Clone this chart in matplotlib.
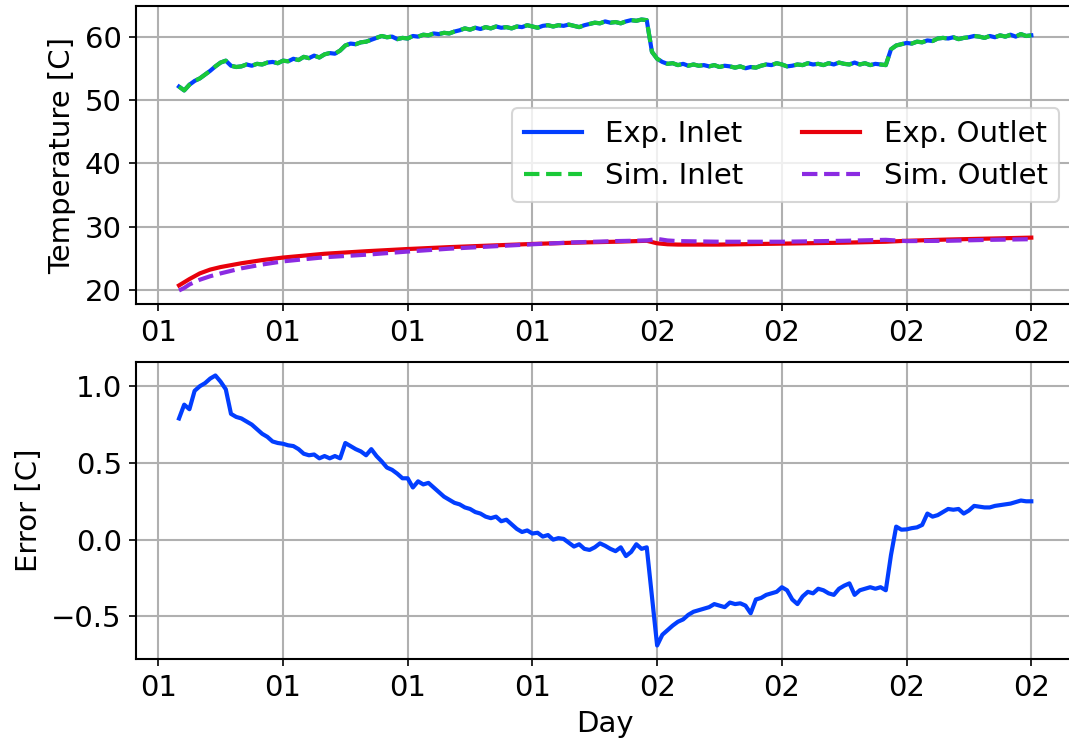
import numpy as np
import pandas as pd
import matplotlib
matplotlib.use("Agg")
import matplotlib.pyplot as plt
import matplotlib.dates as mdates

# hours since start of day 01, sampled every 15 min
hours = np.arange(1.0, 42.01, 0.25)

exp_inlet = [
    52.1, 51.5, 52.4, 53.0,
    53.4, 54.0, 54.6, 55.3,
    55.9, 56.2, 55.4, 55.2,
    55.3, 55.6, 55.4, 55.7,
    55.6, 55.9, 56.0, 55.8,
    56.2, 56.1, 56.5, 56.3,
    56.8, 56.6, 57.0, 56.7,
    57.2, 57.4, 57.3, 57.8,
    58.6, 58.9, 58.8, 59.1,
    59.2, 59.5, 59.8, 60.1,
    59.9, 60.0, 59.6, 59.8,
    59.7, 60.1, 60.0, 60.3,
    60.2, 60.5, 60.4, 60.6,
    60.5, 60.8, 61.0, 61.3,
    61.1, 61.4, 61.2, 61.5,
    61.3, 61.6, 61.4, 61.5,
    61.3, 61.6, 61.5, 61.8,
    61.6, 61.4, 61.7, 61.8,
    61.6, 61.8, 61.7, 61.9,
    61.7, 61.5, 61.8, 62.0,
    62.2, 62.1, 62.4, 62.2,
    62.3, 62.1, 62.4, 62.6,
    62.5, 62.7, 62.6, 57.6,
    56.5, 56.0, 55.7, 55.8,
    55.5, 55.7, 55.4, 55.6,
    55.4, 55.5, 55.3, 55.5,
    55.2, 55.4, 55.3, 55.1,
    55.3, 55.0, 55.2, 55.1,
    55.4, 55.6, 55.5, 55.8,
    55.6, 55.3, 55.4, 55.6,
    55.5, 55.8, 55.6, 55.7,
    55.5, 55.8, 55.6, 55.9,
    55.7, 55.6, 55.9, 55.6,
    55.8, 55.5, 55.7, 55.6,
    55.5, 58.0, 58.6, 58.8,
    59.0, 58.9, 59.2, 59.1,
    59.4, 59.3, 59.7, 59.8,
    59.7, 59.9, 59.6, 59.8,
    59.9, 60.1, 60.0, 59.8,
    60.1, 59.9, 60.2, 60.0,
    60.3, 60.0, 60.4, 60.1,
    60.2,
]
# simulation uses the measured inlet as boundary condition
sim_inlet = list(exp_inlet)

error = [
    0.79, 0.88, 0.85, 0.97,
    1.00, 1.02, 1.05, 1.07,
    1.03, 0.98, 0.82, 0.80,
    0.79, 0.77, 0.75, 0.72,
    0.69, 0.67, 0.64, 0.63,
    0.625, 0.615, 0.61, 0.59,
    0.56, 0.55, 0.555, 0.53,
    0.545, 0.53, 0.545, 0.53,
    0.63, 0.61, 0.59, 0.575,
    0.55, 0.59, 0.545, 0.51,
    0.47, 0.455, 0.43, 0.40,
    0.40, 0.34, 0.38, 0.36,
    0.37, 0.34, 0.31, 0.28,
    0.26, 0.24, 0.23, 0.21,
    0.20, 0.18, 0.17, 0.15,
    0.14, 0.15, 0.12, 0.13,
    0.10, 0.07, 0.05, 0.06,
    0.04, 0.045, 0.02, 0.03,
    0.0, 0.01, 0.005, -0.02,
    -0.045, -0.03, -0.06, -0.067,
    -0.05, -0.024, -0.04, -0.06,
    -0.075, -0.05, -0.107, -0.08,
    -0.03, -0.06, -0.05, -0.37,
    -0.69, -0.62, -0.59, -0.56,
    -0.535, -0.52, -0.49, -0.47,
    -0.46, -0.45, -0.44, -0.42,
    -0.43, -0.44, -0.41, -0.42,
    -0.415, -0.43, -0.48, -0.39,
    -0.38, -0.36, -0.35, -0.34,
    -0.31, -0.33, -0.39, -0.42,
    -0.37, -0.34, -0.35, -0.32,
    -0.33, -0.35, -0.36, -0.32,
    -0.30, -0.285, -0.36, -0.33,
    -0.32, -0.31, -0.32, -0.31,
    -0.33, -0.10, 0.085, 0.065,
    0.067, 0.075, 0.08, 0.096,
    0.17, 0.15, 0.16, 0.18,
    0.20, 0.195, 0.20, 0.17,
    0.19, 0.22, 0.215, 0.21,
    0.21, 0.22, 0.225, 0.23,
    0.235, 0.245, 0.255, 0.25,
    0.25,
]

outlet_hours = [1.0, 1.25, 1.5, 2.0, 2.5, 3.0, 4.0, 5.0, 6.0, 8.0, 10.0, 12.0,
                14.0, 16.0, 18.0, 20.0, 22.0, 23.5, 23.75, 24.0, 24.5, 25.0,
                27.0, 30.0, 33.0, 35.0, 36.0, 38.0, 40.0, 42.0]
exp_outlet = [20.7, 21.2, 21.7, 22.6, 23.2, 23.6, 24.2, 24.7, 25.1, 25.7, 26.1, 26.45,
              26.75, 27.0, 27.25, 27.45, 27.6, 27.75, 27.55, 27.35, 27.2, 27.15,
              27.15, 27.3, 27.45, 27.6, 27.75, 27.95, 28.1, 28.25]
sim_outlet = [19.9, 20.3, 20.85, 21.6, 22.15, 22.6, 23.4, 24.0, 24.5, 25.15, 25.55, 26.05,
              26.5, 26.85, 27.2, 27.5, 27.7, 27.8, 27.92, 28.05, 27.8, 27.7,
              27.6, 27.6, 27.75, 27.9, 27.7, 27.75, 27.9, 28.0]

start = pd.Timestamp("2021-01-01 00:00")
t = start + pd.to_timedelta(hours, unit="h")
t_out = start + pd.to_timedelta(outlet_hours, unit="h")

plt.rcParams["font.size"] = 14
plt.rcParams["lines.linewidth"] = 2.0
plt.rcParams["grid.linewidth"] = 1.0
plt.rcParams["axes.linewidth"] = 1.0

fig = plt.figure(figsize=(1069 / 150, 747 / 150), dpi=150)
ax1 = fig.add_axes([0.1276, 0.593, 0.877, 0.399])
ax2 = fig.add_axes([0.1276, 0.1178, 0.877, 0.3976])

ax1.plot(t, exp_inlet, color="#023eff", label="Exp. Inlet")
ax1.plot(t, sim_inlet, color="#1ac938", linestyle="--", label="Sim. Inlet")
ax1.plot(t_out, exp_outlet, color="#e8000b", label="Exp. Outlet")
ax1.plot(t_out, sim_outlet, color="#8b2be2", linestyle="--", label="Sim. Outlet")
ax1.set_ylabel("Temperature [C]")
ax1.legend(loc="center right", ncol=2)

ax2.plot(t, error, color="#023eff")
ax2.set_ylabel("Error [C]")
ax2.set_xlabel("Day")

for ax in (ax1, ax2):
    ax.xaxis.set_major_locator(mdates.HourLocator(byhour=[0, 6, 12, 18]))
    ax.xaxis.set_major_formatter(mdates.DateFormatter("%d"))
    ax.grid(True)

fig.savefig("out.png", dpi=150)
